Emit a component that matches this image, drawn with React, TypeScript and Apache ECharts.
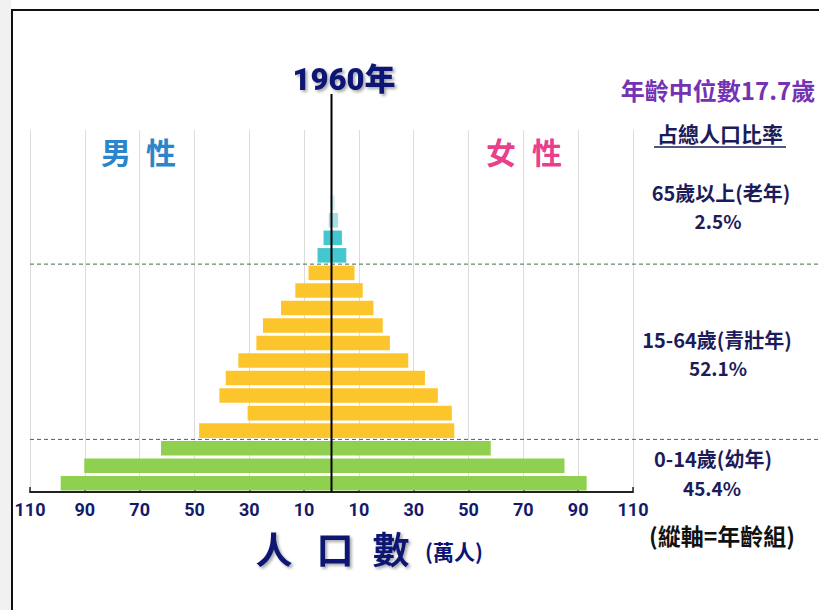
import React, { useEffect, useRef } from 'react';
import * as echarts from 'echarts';

// ---- data ----
const ageGroups = ['0-4', '5-9', '10-14', '15-19', '20-24', '25-29', '30-34', '35-39', '40-44', '45-49', '50-54', '55-59', '60-64', '65-69', '70-74', '75-79', '80+'];
const male = [98.8, 90.2, 62.2, 48.3, 30.6, 40.9, 38.6, 34.0, 27.4, 25.0, 18.4, 13.2, 8.4, 5.1, 2.9, 1.0, 0.5];
const female = [93.1, 85.0, 58.1, 44.8, 43.9, 38.8, 34.1, 28.0, 21.3, 18.7, 15.3, 11.4, 8.4, 5.4, 3.8, 2.4, 1.2];
const tickValues = [-110, -90, -70, -50, -30, -10, 10, 30, 50, 70, 90, 110];
const groupBreaks = [3, 13]; // first index of 15-64 and 65+ groups
const shareLabels = [
  ['65歲以上(老年)', '2.5%'],
  ['15-64歲(青壯年)', '52.1%'],
  ['0-14歲(幼年)', '45.4%'],
];
const titleText = '1960年';
const medianText = '年齡中位數17.7歲';

// ---- styles ----
const barColors = ageGroups.map((_, i) => {
  if (i < 3) return '#8fd050';
  if (i < 13) return '#fdc52c';
  if (i < 15) return '#45c7d0';
  if (i === 15) return '#a6dfe4';
  return '#d6eff1';
});
const NAVY = '#141a6a';
const CJK = "'Noto Sans CJK TC', 'Noto Sans CJK SC', sans-serif";
const NUM = "Roboto, 'Noto Sans CJK TC', sans-serif";

export default function App() {
  const ref = useRef<HTMLDivElement>(null);
  useEffect(() => {
    const chart = echarts.init(ref.current!, null, { renderer: 'svg' });
    const option: any = {
      animation: false,
      backgroundColor: '#ffffff',
      textStyle: { fontFamily: CJK },
      grid: [
        { left: 30, right: 186, top: 130, bottom: 118 },
        { left: 30, right: 186, top: 194, bottom: 118 },
      ],
      xAxis: [
        {
          gridIndex: 0, type: 'value', min: -110, max: 110,
          axisLine: { show: false },
          axisTick: { show: false, customValues: tickValues },
          axisLabel: { show: false },
          splitLine: { show: true, lineStyle: { color: '#dcdcdc', width: 1 } },
        },
        {
          gridIndex: 1, type: 'value', min: -110, max: 110,
          axisLine: { show: true, onZero: false, lineStyle: { color: '#222', width: 2 } },
          axisTick: { show: true, inside: true, length: 5, customValues: tickValues, lineStyle: { color: '#222', width: 1.5 } },
          axisLabel: {
            customValues: tickValues,
            formatter: (v: number) => String(Math.abs(v)),
            color: NAVY, fontSize: 18, fontWeight: 'bold',
            fontFamily: NUM,
            margin: 8,
          },
          splitLine: { show: false },
        },
      ],
      yAxis: [
        { gridIndex: 0, type: 'value', show: false },
        {
          gridIndex: 1, type: 'category', data: ageGroups, show: false,
        },
      ],
      series: [
        {
          name: '男性', type: 'bar', xAxisIndex: 1, yAxisIndex: 1,
          barCategoryGap: '17%', barGap: '-100%',
          data: male.map((v, i) => ({ value: -v, itemStyle: { color: barColors[i] } })),
        },
        {
          name: '女性', type: 'bar', xAxisIndex: 1, yAxisIndex: 1,
          barCategoryGap: '17%', barGap: '-100%',
          data: female.map((v, i) => ({ value: v, itemStyle: { color: barColors[i] } })),
        },
      ],
    };
    chart.setOption(option);

    const px = (v: number) => chart.convertToPixel({ xAxisIndex: 1 }, v) as number;
    const py = (i: number) => chart.convertToPixel({ yAxisIndex: 1 }, ageGroups[i]) as number;
    const band = py(0) - py(1);
    const axisY = py(0) + band / 2;
    const cx = px(0);
    const leftX = px(-110);

    const txt = (text: string, x: number, y: number, size: number, fill: string, extra: any = {}) => ({
      type: 'text', x, y, z: 120,
      style: {
        text, fill, fontSize: size, fontFamily: CJK, fontWeight: 'bold',
        align: 'center', verticalAlign: 'middle', ...extra,
      },
    });
    const shadow = { textShadowColor: 'rgba(0,0,0,0.35)', textShadowBlur: 3, textShadowOffsetX: 2, textShadowOffsetY: 2 };
    const INK = '#1c1c5a';

    const graphics: any[] = [
      { type: 'rect', z: 1, shape: { x: 0, y: 0, width: 11, height: 610 }, style: { fill: '#f1f1f1' } },
      { type: 'rect', z: 130, shape: { x: 12, y: 10, width: 830, height: 630 }, style: { fill: 'none', stroke: '#111', lineWidth: 2 } },
      // center line
      { type: 'line', z: 110, shape: { x1: cx, y1: 94, x2: cx, y2: axisY }, style: { stroke: '#000', lineWidth: 2 } },
      // group separators
      ...groupBreaks.map((b) => {
        const y = (py(b - 1) + py(b)) / 2;
        return { type: 'line', z: 105, shape: { x1: leftX, y1: y, x2: 819, y2: y }, style: { stroke: '#3f6e42', lineWidth: 1, lineDash: [4, 3] } };
      }),
      txt(titleText, 344, 79, 31, '#0b1472', { fontFamily: NUM, fontWeight: 900, ...shadow }),
      txt(medianText, 718, 89, 24, '#7432b4'),
      txt('占總人口比率', 720, 133, 21, INK),
      { type: 'line', z: 120, shape: { x1: 654, y1: 147, x2: 786, y2: 147 }, style: { stroke: INK, lineWidth: 1.5 } },
      txt(shareLabels[0][0], 721, 192, 20, INK),
      txt(shareLabels[0][1], 718, 220, 19, INK),
      txt(shareLabels[1][0], 717, 339, 20, INK),
      txt(shareLabels[1][1], 718, 367, 19, INK),
      txt(shareLabels[2][0], 713, 458, 20, INK),
      txt(shareLabels[2][1], 712, 487, 19, INK),
      txt('(縱軸=年齡組)', 722, 535, 23, '#111111'),
      txt('男', 116, 151, 30, '#2a86c8'),
      txt('性', 161, 151, 30, '#2a86c8'),
      txt('女', 501, 151, 30, '#e8408c'),
      txt('性', 547, 151, 30, '#e8408c'),
      txt('人', 274, 548, 37, '#0b1472', shadow),
      txt('口', 335, 548, 37, '#0b1472', shadow),
      txt('數', 391, 548, 37, '#0b1472', shadow),
      txt('(萬人)', 454, 551, 21, '#0b1472'),
    ];
    chart.setOption({ graphic: graphics });
    return () => chart.dispose();
  }, []);
  return <div ref={ref} style={{ position: 'fixed', left: 0, top: 0, width: 819, height: 610, background: '#fff' }} />;
}
